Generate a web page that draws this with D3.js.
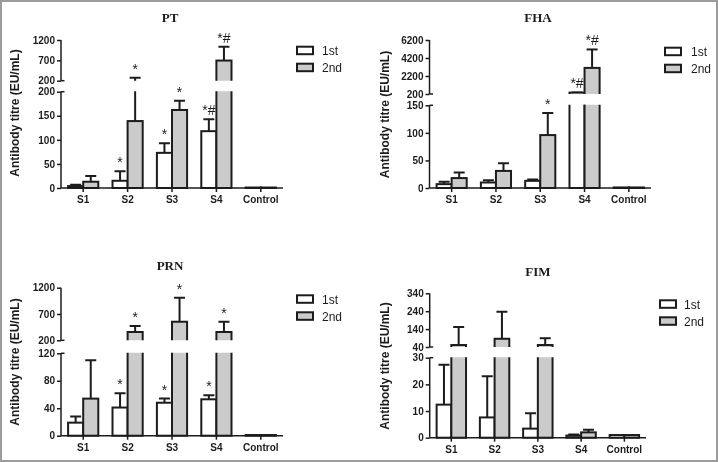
<!DOCTYPE html>
<html><head><meta charset="utf-8">
<script src="https://cdnjs.cloudflare.com/ajax/libs/d3/7.8.5/d3.min.js"></script>
<style>html,body{margin:0;padding:0;background:#fff;}svg{display:block;will-change:transform;}</style>
</head><body>
<script>
// ---------- DATA ----------
const categories = ["S1", "S2", "S3", "S4", "Control"];
const seriesNames = ["1st", "2nd"];

const ptFirstMean  = [4, 15, 73, 118, 1];
const ptFirstSD    = [3, 20, 20, 25, 0];
const ptSecondMean = [13, 139, 162, 695, 1];
const ptSecondSD   = [12, 131, 19, 340, 0];
const ptFirstMarks  = ["", "*", "*", "*#", ""];
const ptSecondMarks = ["", "*", "*", "*#", ""];
const ptLowerTicks = [0, 50, 100, 150, 200];
const ptUpperTicks = [200, 700, 1200];

const fhaFirstMean  = [7, 10, 13, 350, 1];
const fhaFirstSD    = [4.5, 4, 2.5, 20, 0];
const fhaSecondMean = [18, 31, 96, 3100, 1];
const fhaSecondSD   = [10, 14, 40, 2050, 0];
const fhaFirstMarks  = ["", "", "", "*#", ""];
const fhaSecondMarks = ["", "", "*", "*#", ""];
const fhaLowerTicks = [0, 50, 100, 150];
const fhaUpperTicks = [200, 2200, 4200, 6200];

const prnFirstMean  = [19, 41, 48, 53, 1];
const prnFirstSD    = [9, 21, 6, 6, 0];
const prnSecondMean = [54, 358, 553, 358, 1];
const prnSecondSD   = [56, 114, 457, 195, 0];
const prnFirstMarks  = ["", "*", "*", "*", ""];
const prnSecondMarks = ["", "*", "*", "*", ""];
const prnLowerTicks = [0, 40, 80, 120];
const prnUpperTicks = [200, 700, 1200];

const fimFirstMean  = [12.4, 7.6, 3.4, 0.8, 1];
const fimFirstSD    = [15, 15.4, 5.8, 0.4, 0];
const fimSecondMean = [51, 86, 51, 2, 1];
const fimSecondSD   = [101, 151, 38, 1, 0];
const fimFirstMarks  = ["", "", "", "", ""];
const fimSecondMarks = ["", "", "", "", ""];
const fimLowerTicks = [0, 10, 20, 30];
const fimUpperTicks = [40, 140, 240, 340];

const yLabel = "Antibody titre (EU/mL)";

// ---------- LAYOUT ----------
const panels = [
  { title: "PT", first: ptFirstMean, firstSD: ptFirstSD, second: ptSecondMean, secondSD: ptSecondSD,
    m1: ptFirstMarks, m2: ptSecondMarks, lowTicks: ptLowerTicks, upTicks: ptUpperTicks,
    x0: 61, x1: 283, low: [188, 91.7], up: [80.7, 40],
    titlePos: [170, 21.5], labPos: [15, 113], leg: [297, 46.7], legText: 322 },
  { title: "FHA", first: fhaFirstMean, firstSD: fhaFirstSD, second: fhaSecondMean, secondSD: fhaSecondSD,
    m1: fhaFirstMarks, m2: fhaSecondMarks, lowTicks: fhaLowerTicks, upTicks: fhaUpperTicks,
    x0: 429.5, x1: 651, low: [188, 105.3], up: [94, 40],
    titlePos: [538, 21.5], labPos: [385, 114.5], leg: [665, 47.7], legText: 691 },
  { title: "PRN", first: prnFirstMean, firstSD: prnFirstSD, second: prnSecondMean, secondSD: prnSecondSD,
    m1: prnFirstMarks, m2: prnSecondMarks, lowTicks: prnLowerTicks, upTicks: prnUpperTicks,
    x0: 61, x1: 283, low: [435.7, 353.3], up: [340.3, 287.7],
    titlePos: [170, 270], labPos: [15, 362], leg: [297, 295.3], legText: 322 },
  { title: "FIM", first: fimFirstMean, firstSD: fimFirstSD, second: fimSecondMean, secondSD: fimSecondSD,
    m1: fimFirstMarks, m2: fimSecondMarks, lowTicks: fimLowerTicks, upTicks: fimUpperTicks,
    x0: 429.7, x1: 646, low: [437.7, 357.7], up: [347, 293.3],
    titlePos: [538, 276], labPos: [385, 366], leg: [660, 300.3], legText: 684 }
];

const W = 718, H = 462;
const INK = "#1c1c1c", GRAY = "#cbcbcb";
const sans = "'Liberation Sans', Arial, sans-serif";
const serif = "'Liberation Serif', 'Times New Roman', serif";

const svg = d3.select("body").append("svg").attr("width", W).attr("height", H);
svg.append("rect").attr("width", W).attr("height", H).attr("fill", "#fff");
svg.append("rect").attr("x", 1).attr("y", 1).attr("width", W - 2).attr("height", H - 2)
  .attr("fill", "none").attr("stroke", "#9c9c9c").attr("stroke-width", 2);

const defs = svg.append("defs");

panels.forEach((p, pi) => {
  const g = svg.append("g");
  const x = d3.scaleBand().domain(categories).range([p.x0, p.x1]).padding(0);
  const bw = x.bandwidth() * 0.34;
  const lowDom = [p.lowTicks[0], p.lowTicks[p.lowTicks.length - 1]];
  const upDom = [p.upTicks[0], p.upTicks[p.upTicks.length - 1]];
  const yLow = d3.scaleLinear().domain(lowDom).range(p.low);
  const yUp = d3.scaleLinear().domain(upDom).range(p.up);

  const segs = [
    { id: "clipL" + pi, scale: yLow, y0: p.low[1] - 0.5, y1: p.low[0] + 3, upper: false },
    { id: "clipU" + pi, scale: yUp, y0: 0, y1: p.up[0], upper: true }
  ];
  segs.forEach(s => {
    defs.append("clipPath").attr("id", s.id).append("rect")
      .attr("x", p.x0 - 2).attr("y", s.y0).attr("width", p.x1 - p.x0 + 4).attr("height", s.y1 - s.y0);
  });

  const series = [
    { mean: p.first, sd: p.firstSD, fill: "#fff", off: -bw, marks: p.m1 },
    { mean: p.second, sd: p.secondSD, fill: GRAY, off: 0, marks: p.m2 }
  ];

  segs.forEach(s => {
    const sg = g.append("g").attr("clip-path", `url(#${s.id})`);
    series.forEach(se => {
      const rows = categories.map((c, i) => ({ c, v: se.mean[i], sd: se.sd[i] }));
      const eg = sg.append("g").attr("stroke", INK).attr("stroke-width", 2).attr("fill", "none");
      rows.filter(r => r.sd > 0).forEach(r => {
        const top = r.v + r.sd;
        if (s.upper && top <= upDom[0]) return;
        if (!s.upper && r.v >= lowDom[1]) return;
        const cx = x(r.c) + x.bandwidth() / 2 + se.off + bw / 2;
        eg.append("line").attr("x1", cx).attr("x2", cx)
          .attr("y1", s.scale(r.v)).attr("y2", s.scale(top));
        const capIn = s.upper ? top > upDom[0] : top <= lowDom[1];
        if (capIn) {
          eg.append("line").attr("x1", cx - 5.5).attr("x2", cx + 5.5)
            .attr("y1", s.scale(top)).attr("y2", s.scale(top));
        }
      });
      const shown = rows.filter(r => s.upper ? r.v > upDom[0] : true);
      sg.selectAll(null).data(shown).enter().append("rect")
        .attr("x", d => x(d.c) + x.bandwidth() / 2 + se.off)
        .attr("width", bw)
        .attr("y", d => s.scale(d.v))
        .attr("height", d => Math.max(0, s.scale(lowDom[0]) - s.scale(d.v)))
        .attr("fill", se.fill).attr("stroke", INK).attr("stroke-width", 2);
    });
  });

  // significance marks
  series.forEach(se => {
    categories.forEach((c, i) => {
      const m = se.marks[i];
      if (!m) return;
      const top = se.mean[i] + se.sd[i];
      const yy = top <= lowDom[1] ? yLow(top) : yUp(top);
      g.append("text").attr("x", x(c) + x.bandwidth() / 2 + se.off + bw / 2)
        .attr("y", yy - 4).attr("text-anchor", "middle")
        .attr("font-family", sans).attr("font-size", 14).attr("fill", INK).text(m);
    });
  });

  // y axes (broken)
  const axX = p.x0;
  const mkAxis = (scale, ticks) => d3.axisLeft(scale).tickValues(ticks).tickSize(4).tickPadding(2).tickFormat(d3.format("d"));
  [[yLow, p.lowTicks], [yUp, p.upTicks]].forEach(([sc, tk]) => {
    const a = g.append("g").attr("transform", `translate(${axX},0)`).call(mkAxis(sc, tk));
    a.select(".domain").remove();
    a.selectAll(".tick line").attr("stroke", INK).attr("stroke-width", 1.5);
    a.selectAll(".tick text").attr("font-family", sans).attr("font-weight", "bold")
      .attr("font-size", 10).attr("fill", INK);
    const r = sc.range();
    a.append("line").attr("x1", 0).attr("x2", 0).attr("y1", r[0]).attr("y2", r[1])
      .attr("stroke", INK).attr("stroke-width", 1.5);
  });
  [yUp(upDom[0]), yLow(lowDom[1])].forEach(yy => {
    g.append("line").attr("x1", axX).attr("x2", axX + 3.5).attr("y1", yy).attr("y2", yy)
      .attr("stroke", INK).attr("stroke-width", 1.5);
  });

  // x axis
  const xa = g.append("g").attr("transform", `translate(0,${p.low[0]})`)
    .call(d3.axisBottom(x).tickSize(4).tickPadding(4));
  xa.select(".domain").attr("stroke", INK).attr("stroke-width", 1.5)
    .attr("d", `M${p.x0},0H${p.x1}`);
  xa.selectAll(".tick line").attr("stroke", INK).attr("stroke-width", 1.5);
  xa.selectAll(".tick text").attr("font-family", sans).attr("font-weight", "bold")
    .attr("font-size", 10).attr("fill", INK);

  g.append("text").attr("x", p.titlePos[0]).attr("y", p.titlePos[1]).attr("text-anchor", "middle")
    .attr("font-family", serif).attr("font-weight", "bold").attr("font-size", 13).attr("fill", INK).text(p.title);
  g.append("text").attr("transform", `translate(${p.labPos[0]},${p.labPos[1]}) rotate(-90)`)
    .attr("text-anchor", "middle").attr("dy", "0.35em")
    .attr("font-family", sans).attr("font-weight", "bold").attr("font-size", 12).attr("fill", INK).text(yLabel);

  seriesNames.forEach((n, i) => {
    const ly = p.leg[1] + i * 17;
    g.append("rect").attr("x", p.leg[0]).attr("y", ly).attr("width", 16).attr("height", 7.5)
      .attr("fill", i === 0 ? "#fff" : GRAY).attr("stroke", INK).attr("stroke-width", 2);
    g.append("text").attr("x", p.legText).attr("y", ly + 8.3)
      .attr("font-family", sans).attr("font-size", 12).attr("fill", INK).text(n);
  });
});
</script>
</body></html>
